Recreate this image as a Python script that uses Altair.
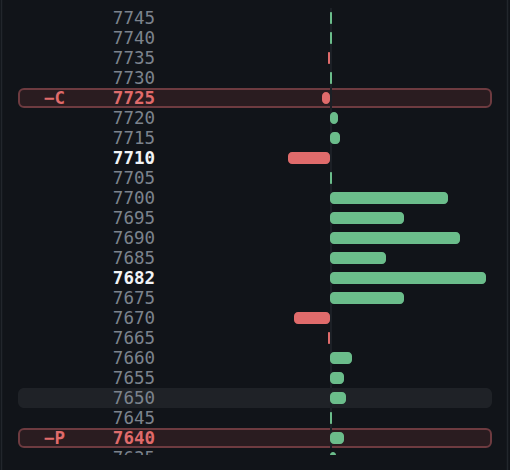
import altair as alt
import pandas as pd

strikes = [7745, 7740, 7735, 7730, 7725, 7720, 7715, 7710, 7705, 7700, 7695, 7690,
           7685, 7682, 7675, 7670, 7665, 7660, 7655, 7650, 7645, 7640, 7635]
values = [2, 2, -2, 2, -8, 8, 10, -42, 2, 118, 74, 130,
          56, 156, 74, -36, -2, 22, 14, 16, 2, 14, 6]
marker_strikes = [7725, 7640]
marker_labels = ["−C", "−P"]
bold_strikes = [7710, 7682]
shade_strikes = [7650]

BG = "#111419"
GREEN = "#6bbd8b"
RED = "#e06b6b"
MUTED = "#7c838d"
WHITE = "#f2f4f7"
FONT = "DejaVu Sans Mono"
FS = 17.5

df = pd.DataFrame({"strike": strikes, "value": values})
df["row"] = list(range(len(df)))
df["label"] = df["strike"].astype(str)
df["y0"] = df["row"] - 0.3
df["y1"] = df["row"] + 0.3
df["zero"] = 0
df["barcolor"] = [GREEN if v >= 0 else RED for v in values]
df["marked"] = df["strike"].isin(marker_strikes)
df["bold"] = df["strike"].isin(bold_strikes)
df["txtcolor"] = [RED if m else (WHITE if b else MUTED) for m, b in zip(df["marked"], df["bold"])]
df["hy0"] = df["row"] - 0.45
df["hy1"] = df["row"] + 0.45
df["sy0"] = df["row"] - 0.5
df["sy1"] = df["row"] + 0.5

mk = pd.DataFrame({"strike": marker_strikes, "mlabel": marker_labels})
mk = mk.merge(df[["strike", "row", "hy0", "hy1"]], on="strike")
shade = df[df["strike"].isin(shade_strikes)]
zl = pd.DataFrame({"zero": [0], "zy0": [-0.5], "zy1": [21.5]})

H = 455
xs = alt.Scale(domain=[-330, 180], nice=False, zero=False)
ys = alt.Scale(domain=[-0.9, (H - 18) / 20], nice=False, zero=False, reverse=True)

base = alt.Chart(df)

shade_layer = alt.Chart(shade).mark_rect(color="#1f2227", cornerRadius=6).encode(
    x=alt.value(18), x2=alt.value(492),
    y=alt.Y("sy0:Q", scale=ys, axis=None), y2="sy1:Q")

box_layer = alt.Chart(mk).mark_rect(
    fill="#2a1c20", stroke="#6e3b40", strokeWidth=2, cornerRadius=5).encode(
    x=alt.value(19), x2=alt.value(491),
    y=alt.Y("hy0:Q", scale=ys, axis=None), y2="hy1:Q")

zero_line = alt.Chart(zl).mark_rule(color="#1c2026", strokeWidth=2, xOffset=1).encode(
    x=alt.X("zero:Q", scale=xs, axis=None),
    y=alt.Y("zy0:Q", scale=ys, axis=None), y2="zy1:Q")

bars = base.mark_rect(cornerRadius=4, clip=True).encode(
    x=alt.X("value:Q", scale=xs, axis=None), x2="zero:Q",
    y=alt.Y("y0:Q", scale=ys, axis=None), y2="y1:Q",
    color=alt.Color("barcolor:N", scale=None))

txt_normal = base.transform_filter("!datum.marked && !datum.bold").mark_text(
    font=FONT, fontSize=FS, align="right", baseline="middle", dy=1, clip=True).encode(
    x=alt.value(155), y=alt.Y("row:Q", scale=ys, axis=None),
    text="label:N", color=alt.Color("txtcolor:N", scale=None))

txt_bold = base.transform_filter("datum.marked || datum.bold").mark_text(
    font=FONT, fontSize=FS, fontWeight="bold", align="right", baseline="middle", dy=1, clip=True).encode(
    x=alt.value(155), y=alt.Y("row:Q", scale=ys, axis=None),
    text="label:N", color=alt.Color("txtcolor:N", scale=None))

txt_marker = alt.Chart(mk).mark_text(
    font=FONT, fontSize=FS, fontWeight="bold", align="left", baseline="middle", dy=1, color=RED).encode(
    x=alt.value(44), y=alt.Y("row:Q", scale=ys, axis=None), text="mlabel:N")

border_l = alt.Chart(zl).mark_rule(color="#22262c", strokeWidth=1.5).encode(
    x=alt.value(1.5), y=alt.value(0), y2=alt.value(470))
border_r = alt.Chart(zl).mark_rule(color="#22262c", strokeWidth=1.5).encode(
    x=alt.value(507.5), y=alt.value(0), y2=alt.value(470))

chart = alt.layer(
    shade_layer, box_layer, zero_line, bars, txt_normal, txt_bold, txt_marker, border_l, border_r
).properties(
    width=510, height=H,
    autosize=alt.AutoSizeParams(type="none"),
    padding={"left": 0, "top": 0, "right": 0, "bottom": 15},
    background=BG,
).configure_view(stroke=None)

chart.save("out.html", embed_options={"renderer": "svg", "actions": False})
